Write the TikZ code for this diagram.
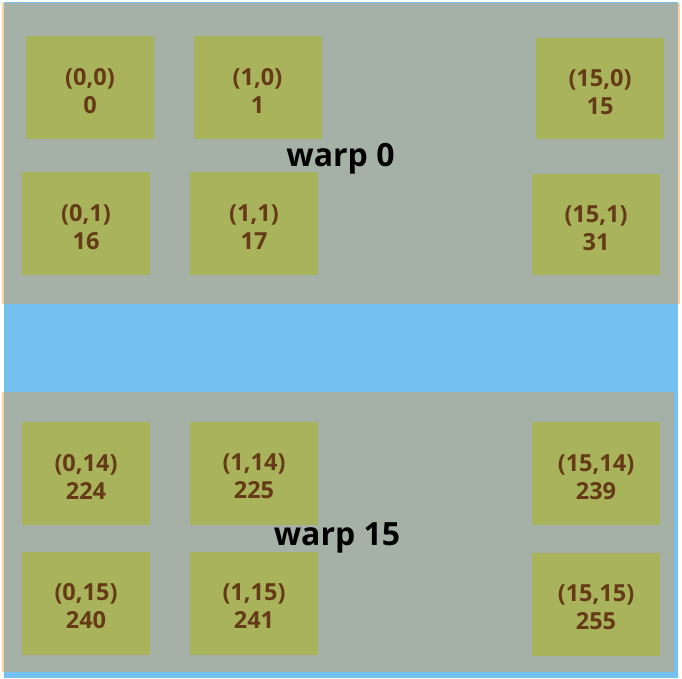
\documentclass[tikz,border=0pt]{standalone}
\usepackage{fontspec}
\setmainfont{Open Sans}
\definecolor{bgblue}{HTML}{74C1F0}
\definecolor{warpgray}{HTML}{A5B0A6}
\definecolor{peach}{HTML}{F8D2A8}
\definecolor{cellgreen}{HTML}{A9B35B}
\definecolor{celltext}{HTML}{653A17}
\tikzset{
  cell/.style={fill=cellgreen, minimum width=128pt, minimum height=103pt, inner sep=0pt},
  celllabel/.style={text=celltext, font=\fontsize{23.5}{28}\selectfont\bfseries, align=center, inner sep=0pt},
  warplabel/.style={text=black, font=\fontsize{32}{36}\selectfont\bfseries, inner sep=0pt, anchor=base}
}
\begin{document}
\begin{tikzpicture}[x=1pt,y=-1pt]
\useasboundingbox (0,0) rectangle (682,678);
% background
\fill[bgblue] (4,2) rectangle (678,678);
% warp 0 box
\fill[warpgray] (4,3) rectangle (678,304);
\fill[peach] (2,3) rectangle (4,304);
\fill[peach] (678,3) rectangle (680,304);
% warp 15 box
\fill[warpgray] (4,392) rectangle (674,672);
\fill[peach] (2,392) rectangle (4,672);
% warp 0 cells
\node[cell] (c00) at (90,87.5) {};
\node[cell] (c10) at (257.5,87.5) {};
\node[cell, minimum height=101pt] (c150) at (600,88.5) {};
\node[cell] (c01) at (86,223.5) {};
\node[cell] (c11) at (254,223.5) {};
\node[cell, minimum height=101pt] (c151) at (596,224.5) {};
\node[celllabel] (t00) at ([yshift=-3.5pt]c00.center) {(0,0)\\0};
\node[celllabel] (t10) at ([yshift=-3.5pt]c10.center) {(1,0)\\1};
\node[celllabel] (t150) at ([yshift=-3.5pt]c150.center) {(15,0)\\15};
\node[celllabel] (t01) at ([yshift=-3.5pt]c01.center) {(0,1)\\16};
\node[celllabel] (t11) at ([yshift=-3.5pt]c11.center) {(1,1)\\17};
\node[celllabel] (t151) at ([yshift=-3.5pt]c151.center) {(15,1)\\31};
\node[warplabel] (w0) at (340.5,166) {warp 0};
% warp 15 cells
\node[cell] (c014) at (86,473) {};
\node[cell] (c114) at (254,473) {};
\node[cell] (c1514) at (596,473.5) {};
\node[cell] (c015) at (86,603) {};
\node[cell] (c115) at (254,603) {};
\node[cell] (c1515) at (596,604) {};
\node[celllabel] (t014) at ([yshift=-3.5pt]c014.center) {(0,14)\\224};
\node[celllabel] (t114) at ([yshift=-3.5pt]c114.center) {(1,14)\\225};
\node[celllabel] (t1514) at ([yshift=-3.5pt]c1514.center) {(15,14)\\239};
\node[celllabel] (t015) at ([yshift=-3.5pt]c015.center) {(0,15)\\240};
\node[celllabel] (t115) at ([yshift=-3.5pt]c115.center) {(1,15)\\241};
\node[celllabel] (t1515) at ([yshift=-3.5pt]c1515.center) {(15,15)\\255};
\node[warplabel] (w15) at (337,545) {warp 15};
\end{tikzpicture}
\end{document}
